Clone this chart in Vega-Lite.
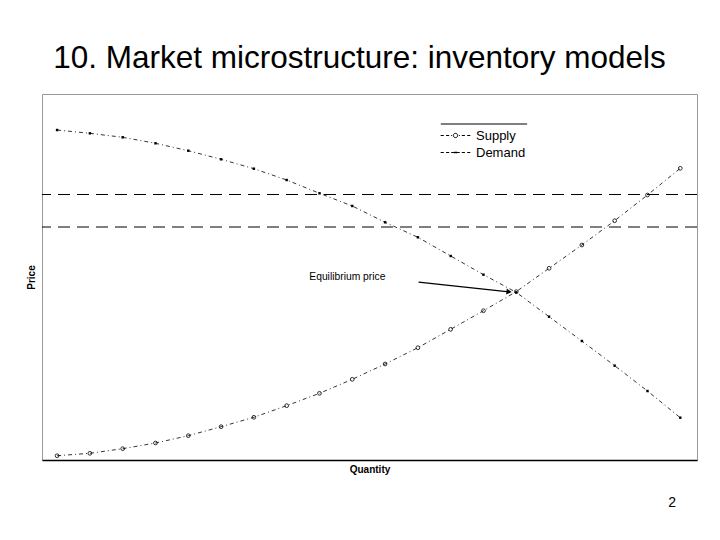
{
  "$schema": "https://vega.github.io/schema/vega-lite/v6.json",
  "description": "Supply and demand curves with equilibrium price and two quote levels.",
  "autosize": {"type": "none"},
  "padding": {"left": 42, "top": 94, "right": 23, "bottom": 80},
  "width": 655,
  "height": 366,
  "background": "white",
  "title": {
    "text": "10. Market microstructure: inventory models",
    "font": "Liberation Sans",
    "fontSize": 31.5,
    "fontWeight": "normal",
    "color": "black",
    "anchor": "middle",
    "offset": 20,
    "dx": -10
  },
  "datasets": {
    "curves": [
      {"q": 1, "price": 1.17, "series": "Supply"},
      {"q": 2, "price": 1.83, "series": "Supply"},
      {"q": 3, "price": 3.09, "series": "Supply"},
      {"q": 4, "price": 4.64, "series": "Supply"},
      {"q": 5, "price": 6.64, "series": "Supply"},
      {"q": 6, "price": 9.1, "series": "Supply"},
      {"q": 7, "price": 11.67, "series": "Supply"},
      {"q": 8, "price": 14.84, "series": "Supply"},
      {"q": 9, "price": 18.22, "series": "Supply"},
      {"q": 10, "price": 22.05, "series": "Supply"},
      {"q": 11, "price": 26.23, "series": "Supply"},
      {"q": 12, "price": 30.68, "series": "Supply"},
      {"q": 13, "price": 35.71, "series": "Supply"},
      {"q": 14, "price": 40.79, "series": "Supply"},
      {"q": 15, "price": 46.0, "series": "Supply"},
      {"q": 16, "price": 52.38, "series": "Supply"},
      {"q": 17, "price": 58.74, "series": "Supply"},
      {"q": 18, "price": 65.38, "series": "Supply"},
      {"q": 19, "price": 72.4, "series": "Supply"},
      {"q": 20, "price": 79.7, "series": "Supply"},
      {"q": 1, "price": 90.16, "series": "Demand"},
      {"q": 2, "price": 89.26, "series": "Demand"},
      {"q": 3, "price": 88.17, "series": "Demand"},
      {"q": 4, "price": 86.53, "series": "Demand"},
      {"q": 5, "price": 84.51, "series": "Demand"},
      {"q": 6, "price": 82.16, "series": "Demand"},
      {"q": 7, "price": 79.59, "series": "Demand"},
      {"q": 8, "price": 76.5, "series": "Demand"},
      {"q": 9, "price": 72.87, "series": "Demand"},
      {"q": 10, "price": 69.4, "series": "Demand"},
      {"q": 11, "price": 64.95, "series": "Demand"},
      {"q": 12, "price": 60.85, "series": "Demand"},
      {"q": 13, "price": 55.74, "series": "Demand"},
      {"q": 14, "price": 50.63, "series": "Demand"},
      {"q": 15, "price": 45.8, "series": "Demand"},
      {"q": 16, "price": 39.15, "series": "Demand"},
      {"q": 17, "price": 32.51, "series": "Demand"},
      {"q": 18, "price": 25.77, "series": "Demand"},
      {"q": 19, "price": 18.85, "series": "Demand"},
      {"q": 20, "price": 11.56, "series": "Demand"}
    ],
    "levels": [{"price": 72.54}, {"price": 63.66}],
    "arrow": [{"q": 12.02, "price": 48.6, "q2": 14.78, "price2": 45.95}],
    "arrowhead": [{"q": 14.78, "price": 45.95}],
    "notes": [
      {"q": 9.85, "price": 50.0, "label": "Equilibrium price", "size": 10.3},
      {"q": 19.75, "price": -11.75, "label": "2", "size": 14}
    ],
    "legendline": [{"q": 12.7, "q2": 15.33, "price": 91.8}]
  },
  "layer": [
    {
      "data": {"name": "levels"},
      "mark": {"type": "rule", "color": "black", "strokeWidth": 1.2, "strokeDash": [12, 7]},
      "encoding": {"y": {"field": "price", "type": "quantitative"}}
    },
    {
      "data": {"name": "curves"},
      "mark": {"type": "line", "color": "black", "strokeWidth": 0.8, "strokeDash": [4, 3, 1, 3]},
      "encoding": {
        "x": {"field": "q", "type": "quantitative"},
        "y": {"field": "price", "type": "quantitative"},
        "detail": {"field": "series"}
      }
    },
    {
      "data": {"name": "curves"},
      "transform": [{"filter": "datum.series === 'Supply'"}],
      "mark": {"type": "point", "shape": "circle", "filled": false, "color": "black", "size": 14, "strokeWidth": 0.8, "opacity": 1},
      "encoding": {
        "x": {"field": "q", "type": "quantitative"},
        "y": {"field": "price", "type": "quantitative"}
      }
    },
    {
      "data": {"name": "curves"},
      "transform": [{"filter": "datum.series === 'Demand'"}],
      "mark": {"type": "point", "shape": "square", "filled": true, "color": "black", "size": 6, "opacity": 1},
      "encoding": {
        "x": {"field": "q", "type": "quantitative"},
        "y": {"field": "price", "type": "quantitative"}
      }
    },
    {
      "data": {"name": "curves"},
      "transform": [{"filter": "datum.q > 100"}],
      "mark": {"type": "point", "filled": false, "color": "black", "opacity": 1},
      "encoding": {
        "x": {"field": "q", "type": "quantitative"},
        "y": {"field": "price", "type": "quantitative"},
        "shape": {
          "field": "series",
          "type": "nominal",
          "scale": {
            "domain": ["Supply", "Demand"],
            "range": [
              "M-1.65,0H-1.3M-1.05,0H-0.7M-0.48,0H-0.38M0.38,0H0.48M0.7,0H1.05M1.3,0H1.65M-0.24,0A0.24,0.24 0 1 1 0.24,0A0.24,0.24 0 1 1 -0.24,0",
              "M-1.65,0H-1.3M-1.05,0H-0.7M-0.48,0H0.48M0.7,0H1.05M1.3,0H1.65M-0.08,-0.1V0.1M0.08,-0.1V0.1"
            ]
          },
          "legend": {
            "title": null,
            "orient": "none",
            "legendX": 404,
            "legendY": 32,
            "padding": 0,
            "symbolSize": 324,
            "symbolStrokeColor": "black",
            "symbolFillColor": "transparent",
            "symbolStrokeWidth": 1,
            "symbolOpacity": 1,
            "labelFont": "Liberation Sans",
            "labelFontSize": 13,
            "labelColor": "black",
            "labelOffset": 11,
            "rowPadding": 0
          }
        }
      }
    },
    {
      "data": {"name": "legendline"},
      "mark": {"type": "rule", "color": "black", "strokeWidth": 1},
      "encoding": {
        "x": {"field": "q", "type": "quantitative"},
        "x2": {"field": "q2"},
        "y": {"field": "price", "type": "quantitative"}
      }
    },
    {
      "data": {"name": "arrow"},
      "mark": {"type": "rule", "color": "black", "strokeWidth": 1.2},
      "encoding": {
        "x": {"field": "q", "type": "quantitative"},
        "x2": {"field": "q2"},
        "y": {"field": "price", "type": "quantitative"},
        "y2": {"field": "price2"}
      }
    },
    {
      "data": {"name": "arrowhead"},
      "mark": {"type": "point", "shape": "triangle-right", "filled": true, "color": "black", "size": 36, "angle": 6, "opacity": 1},
      "encoding": {
        "x": {"field": "q", "type": "quantitative"},
        "y": {"field": "price", "type": "quantitative"}
      }
    },
    {
      "data": {"name": "notes"},
      "mark": {"type": "text", "font": "Liberation Sans", "color": "black", "align": "center", "baseline": "middle"},
      "encoding": {
        "x": {"field": "q", "type": "quantitative"},
        "y": {"field": "price", "type": "quantitative"},
        "text": {"field": "label"},
        "size": {"field": "size", "type": "quantitative", "scale": null}
      }
    }
  ],
  "encoding": {
    "x": {
      "type": "quantitative",
      "scale": {"domain": [0.54, 20.51], "nice": false, "zero": false},
      "axis": {
        "title": "Quantity",
        "titleFont": "Liberation Sans",
        "titleFontSize": 10,
        "titleFontWeight": "bold",
        "titleColor": "black",
        "titlePadding": 4,
        "labels": false,
        "ticks": false,
        "grid": false,
        "domainColor": "black",
        "domainWidth": 1.5
      }
    },
    "y": {
      "type": "quantitative",
      "scale": {"domain": [0, 100], "nice": false, "zero": false},
      "axis": {
        "title": "Price",
        "titleFont": "Liberation Sans",
        "titleFontSize": 10,
        "titleFontWeight": "bold",
        "titleColor": "black",
        "titlePadding": 6,
        "labels": false,
        "ticks": false,
        "grid": false,
        "domain": false
      }
    }
  },
  "config": {
    "view": {"stroke": "#999999", "strokeWidth": 1},
    "axis": {"titleFont": "Liberation Sans"}
  }
}
